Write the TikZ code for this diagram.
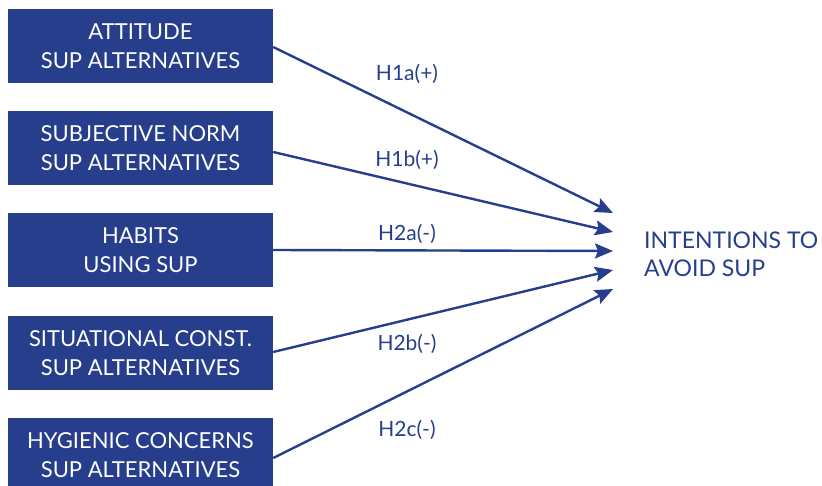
\documentclass[tikz,border=0pt]{standalone}
\usepackage{fontspec}
\setmainfont{Lato}
\usetikzlibrary{arrows.meta}
\definecolor{navy}{RGB}{38,62,140}
\begin{document}
\begin{tikzpicture}[x=1pt,y=-1pt,
  factor/.style={fill=navy, text=white, minimum width=265pt, minimum height=74pt,
    inner sep=0pt, align=center, font=\fontsize{22}{29}\selectfont},
  hyp/.style={text=navy, inner sep=0pt, font=\fontsize{21}{29}\selectfont},
  link/.style={draw=navy, line width=2.4pt,
    -{Stealth[length=18pt,width=15pt,inset=3pt]}}]
\useasboundingbox (0,0) rectangle (822,486);
\clip (0,0) rectangle (822,486);

% predictor boxes
\node[factor] (b1) at (140.5,46)  {ATTITUDE\\SUP ALTERNATIVES};
\node[factor] (b2) at (140.5,148) {SUBJECTIVE NORM\\SUP ALTERNATIVES};
\node[factor] (b3) at (140.5,250) {HABITS\\USING SUP};
\node[factor] (b4) at (140.5,353) {SITUATIONAL CONST.\\SUP ALTERNATIVES};
\node[factor] (b5) at (140.5,455) {HYGIENIC CONCERNS\\SUP ALTERNATIVES};

% outcome
\node[hyp, anchor=west, align=left, font=\fontsize{23}{28}\selectfont] (out) at (644,254)
  {INTENTIONS TO\\AVOID SUP};

% arrow tips in front of the outcome
\coordinate (t1) at (613,213);
\coordinate (t2) at (613,232);
\coordinate (t3) at (613,251);
\coordinate (t4) at (613,270);
\coordinate (t5) at (613,289);

\draw[link] ([yshift=-1pt]b1.east) -- (t1);
\draw[link] ([yshift=-4pt]b2.east) -- (t2);
\draw[link] (b3.east) -- (t3);
\draw[link] ([yshift=1pt]b4.east) -- (t4);
\draw[link] ([yshift=-3pt]b5.east) -- (t5);

% hypothesis labels
\node[hyp] (h1a) at (407,74)  {H1a(+)};
\node[hyp] (h1b) at (407,160) {H1b(+)};
\node[hyp] (h2a) at (407,234) {H2a(-)};
\node[hyp] (h2b) at (407,344) {H2b(-)};
\node[hyp] (h2c) at (407,430) {H2c(-)};
\end{tikzpicture}
\end{document}
